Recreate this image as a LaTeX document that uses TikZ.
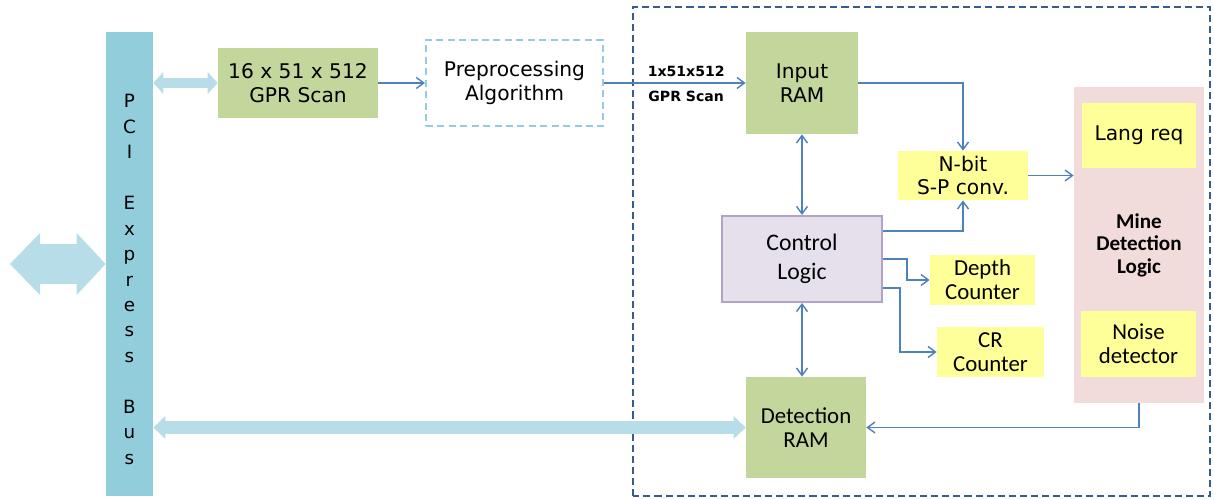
\documentclass[tikz,border=0pt]{standalone}
\usepackage{fontspec}
\setmainfont{DejaVu Sans}
\newfontfamily\calfont{Carlito}
\usepackage{tikz}
\usetikzlibrary{arrows.meta, positioning}
\usepackage{xcolor}
\definecolor{busblue}{HTML}{92CDDC}
\definecolor{arrowblue}{HTML}{B7DEE8}
\definecolor{ramgreen}{HTML}{C3D69B}
\definecolor{boxyellow}{HTML}{FFFF99}
\definecolor{minepink}{HTML}{F2DCDB}
\definecolor{ctrlfill}{HTML}{E5E0EC}
\definecolor{ctrlline}{HTML}{B3A2C7}
\definecolor{wireblue}{HTML}{4F81BD}
\definecolor{framegray}{HTML}{385D8A}
\definecolor{preline}{HTML}{93CDDD}

\begin{document}
\begin{tikzpicture}[
	vtext/.style={align=center, inner sep=0pt, font=\fontsize{11.5}{13.6}\selectfont},
	ctext/.style={align=center, inner sep=0pt, font=\calfont\fontsize{13}{13.5}\selectfont},
	greenbox/.style={vtext, fill=ramgreen},
	yellowbox/.style={fill=boxyellow},
	wire/.style={draw=wireblue, line width=0.8pt, -{Straight Barb[length=1.5mm,width=2.2mm]}},
	wirebi/.style={draw=wireblue, line width=0.8pt, {Straight Barb[length=1.5mm,width=2.2mm]}-{Straight Barb[length=1.5mm,width=2.2mm]}},
	busarrow/.style={draw=arrowblue, line width=0.26cm, {Triangle[length=0.24cm,width=0.46cm,line width=0pt]}-{Triangle[length=0.24cm,width=0.46cm,line width=0pt]}},
	lbl/.style={font=\bfseries\fontsize{8}{9}\selectfont}
	]
	\useasboundingbox (0,0) rectangle (24.28,9.96);
	% outer frame
	\draw[framegray, line width=1.1pt, dash pattern=on 4pt off 2.3pt] (12.66,0.04) rectangle (24.20,9.82);

	\draw (2.59,4.68) node[fill=busblue, minimum width=0.94cm, minimum height=9.28cm, inner sep=0pt] (pci) {}
	(2.59,4.37) node[align=center, inner sep=0pt, font=\fontsize{10.4}{14.5}\selectfont] (pcitxt) {P\\C\\I\\~\\E\\x\\p\\r\\e\\s\\s\\~\\B\\u\\s}
	(5.96,8.30) node[greenbox, minimum width=3.2cm, minimum height=1.4cm] (scan) {16 x 51 x 512\\GPR Scan}
	(10.29,8.30) node[vtext, draw=preline, fill=white, line width=1.2pt, dash pattern=on 4pt off 2.5pt, minimum width=3.54cm, minimum height=1.72cm] (pre) {Preprocessing\\Algorithm}
	(16.04,8.30) node[greenbox, minimum width=2.24cm, minimum height=2.04cm] (inram) {Input\\RAM}
	(19.26,6.45) node[vtext, yellowbox, minimum width=2.6cm, minimum height=0.98cm] (sp) {N-bit\\S-P conv.}
	(22.78,5.06) node[align=center, inner sep=0pt, fill=minepink, minimum width=2.6cm, minimum height=6.32cm, font=\calfont\bfseries\fontsize{12}{12.8}\selectfont] (mine) {Mine\\Detection\\Logic}
	(22.78,7.25) node[vtext, yellowbox, minimum width=2.28cm, minimum height=1.3cm] (lang) {Lang req}
	(22.77,3.08) node[ctext, yellowbox, minimum width=2.3cm, minimum height=1.32cm] (noise) {Noise\\detector}
	(16.04,4.78) node[ctext, fill=ctrlfill, draw=ctrlline, line width=1.1pt, minimum width=3.2cm, minimum height=1.72cm, font=\calfont\fontsize{13.5}{16.4}\selectfont] (ctrl) {Control\\Logic}
	(19.65,4.36) node[ctext, yellowbox, minimum width=2.1cm, minimum height=1.0cm] (depth) {Depth\\Counter}
	(19.81,2.92) node[ctext, yellowbox, minimum width=2.14cm, minimum height=1.0cm] (cr) {CR\\Counter}
	(16.12,1.41) node[ctext, fill=ramgreen, minimum width=2.4cm, minimum height=2.02cm, font=\calfont\fontsize{13}{14}\selectfont] (detram) {Detection\\RAM};

	\coordinate (host) at (0.2,4.68);

	% bus arrows
	\draw[draw=arrowblue, line width=0.8cm, {Triangle[length=0.6cm,width=1.24cm,line width=0pt]}-{Triangle[length=0.58cm,width=1.24cm,line width=0pt]}] (host) -- (pci.west);
	\draw[busarrow, line width=0.2cm, {Triangle[length=0.2cm,width=0.44cm,line width=0pt]}-{Triangle[length=0.2cm,width=0.44cm,line width=0pt]}] (pci.east |- scan.west) -- (scan.west);
	\draw[busarrow] (pci.east |- detram.west) -- (detram.west);

	% data path
	\draw[wire] (scan) -- (pre);
	\draw[wire] (pre.east) -- (inram.west)
		node[pos=0.58, above, lbl] {1x51x512}
		node[pos=0.58, below, lbl, yshift=-1pt] {GPR Scan};
	\draw[wire] (inram.east) -| (sp.north);
	\draw[wire] (sp.east) -- (sp.east -| mine.west);
	\draw[wirebi] (inram.south) -- (ctrl.north);
	\draw[wirebi] (ctrl.south) -- (ctrl.south |- detram.north);
	\draw[wire] ([yshift=-0.32cm]ctrl.north east) -| (sp.south);
	\draw[wire] (ctrl.east) -- ++(0.48,0) |- (depth.west);
	\draw[wire] ([yshift=-0.58cm]ctrl.east) -- ++(0.34,0) |- (cr.west);
	\draw[wire] (mine.south) |- (detram.east);
\end{tikzpicture}
\end{document}
